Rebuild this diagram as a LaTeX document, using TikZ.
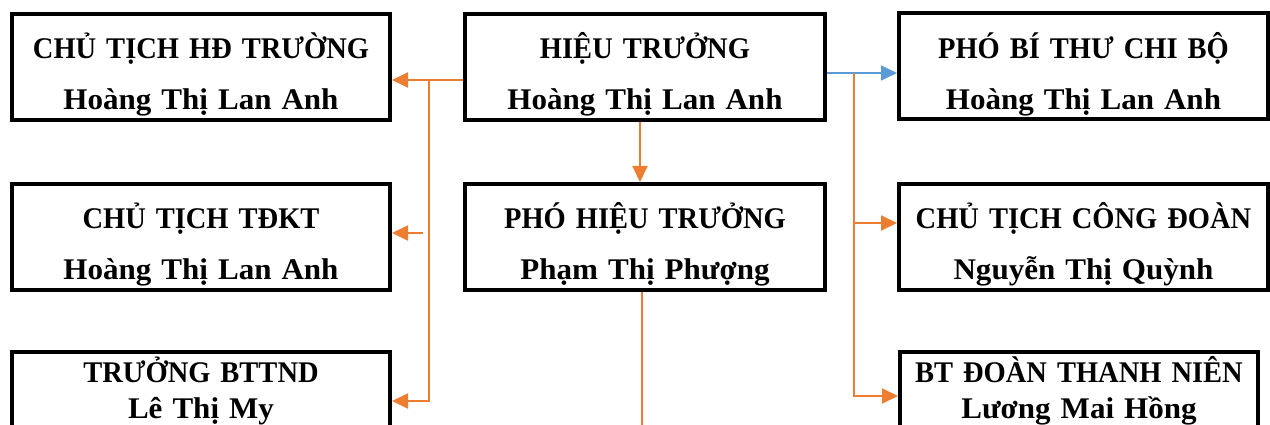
\documentclass[tikz,border=0pt]{standalone}
\usepackage{fontspec}
\setmainfont{Liberation Serif}[FakeStretch=1.035]
\newfontfamily\chucdanh{Liberation Serif}[FakeStretch=0.95]
\usetikzlibrary{arrows.meta,positioning,calc}
\definecolor{camline}{HTML}{ED7D31}
\definecolor{xanhline}{HTML}{5B9BD5}
\newcommand\chucvuten[2]{{\chucdanh #1}\\#2}

\begin{document}
\begin{tikzpicture}[x=1pt, y=-1pt, >={Triangle[length=16pt,width=15pt]},
    chucvu/.style={draw, line width=4pt, inner sep=0pt, minimum width=#1pt,
      minimum height=106pt, text width=#1pt, align=center,
      font=\fontsize{30}{51}\selectfont\bfseries, text height=30pt, text depth=46pt},
    hangduoi/.style={font=\fontsize{30}{36}\selectfont\bfseries, text height=25pt, text depth=71pt},
    cam/.style={draw=camline, line width=2pt},
    xanh/.style={draw=xanhline, line width=1.6pt}]
  \clip (0,0) rectangle (1270,425);
  % cac chuc vu
  \node[chucvu=378] (ctHD) at (201,67) {\chucvuten{CHỦ TỊCH HĐ TRƯỜNG}{Hoàng Thị Lan Anh}};
  \node[chucvu=360] (hieutruong) at (645,67) {\chucvuten{HIỆU TRƯỞNG}{Hoàng Thị Lan Anh}};
  \node[chucvu=369] (phobithu) at (1083.5,66.5) {\chucvuten{PHÓ BÍ THƯ CHI BỘ}{Hoàng Thị Lan Anh}};
  \node[chucvu=378] (ctTDKT) at (201,237) {\chucvuten{CHỦ TỊCH TĐKT}{Hoàng Thị Lan Anh}};
  \node[chucvu=360] (phoHT) at (645,237) {\chucvuten{PHÓ HIỆU TRƯỞNG}{Phạm Thị Phượng}};
  \node[chucvu=369] (ctCD) at (1083.5,237) {\chucvuten{CHỦ TỊCH CÔNG ĐOÀN}{Nguyễn Thị Quỳnh}};
  \node[chucvu=378, hangduoi] (truongBT) at (201,405) {\chucvuten{TRƯỞNG BTTND}{Lê Thị My}};
  \node[chucvu=358, hangduoi] (btDoan) at (1079,405) {\chucvuten{BT ĐOÀN THANH NIÊN}{Lương Mai Hồng}};
  % duong noi
  \coordinate (trucTrai) at (429,80);
  \coordinate (nhanTrai) at (423,233);
  \coordinate (trucPhai) at (854,73);
  \coordinate (nhanPhai) at (854,223);
  \draw[cam,->] (hieutruong.west |- trucTrai) -- (ctHD.east |- trucTrai);
  \draw[cam,->] (trucTrai) |- ([yshift=4pt]truongBT.east);
  \draw[cam,->] (nhanTrai) -- (nhanTrai -| ctTDKT.east);
  \draw[cam,->] ([xshift=-5pt]hieutruong.south) -- ([xshift=-5pt]phoHT.north);
  \draw[xanh,->] (hieutruong.east |- trucPhai) -- (phobithu.west |- trucPhai);
  \draw[cam,->] (trucPhai) |- ([yshift=9pt]btDoan.west);
  \draw[cam,->] (nhanPhai) -- (nhanPhai -| ctCD.west);
  \draw[cam] ([xshift=-3pt]phoHT.south) -- ++(0,140);
\end{tikzpicture}
\end{document}
